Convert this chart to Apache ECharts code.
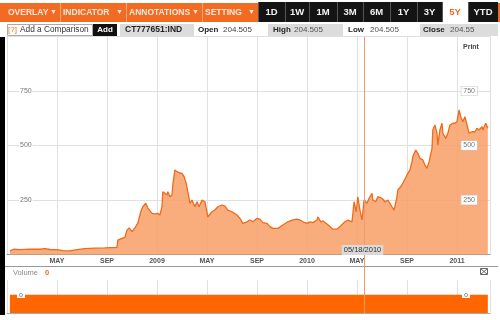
<!DOCTYPE html>
<html><head><meta charset="utf-8">
<script src="https://cdn.jsdelivr.net/npm/echarts@6/dist/echarts.min.js"></script>
<style>html,body{margin:0;padding:0;background:#fff}#c{width:500px;height:320px}</style>
</head><body><div id="c"></div>
<script>
// ---- data ----
const dates = ['2008-01-08','2008-01-17','2008-02-02','2008-02-26','2008-03-20','2008-04-02','2008-04-14','2008-05-01','2008-05-15','2008-06-02','2008-06-19','2008-07-08','2008-08-02','2008-08-26','2008-09-25','2008-09-27','2008-10-07','2008-10-14','2008-10-19','2008-10-24','2008-11-01','2008-11-08','2008-11-15','2008-11-22','2008-11-27','2008-12-04','2008-12-09','2008-12-19','2008-12-26','2009-01-03','2009-01-08','2009-01-13','2009-01-15','2009-01-20','2009-01-25','2009-01-27','2009-02-02','2009-02-07','2009-02-09','2009-02-14','2009-02-19','2009-02-24','2009-03-01','2009-03-06','2009-03-11','2009-03-15','2009-03-20','2009-03-25','2009-03-27','2009-04-02','2009-04-07','2009-04-12','2009-04-19','2009-04-26','2009-05-03','2009-05-13','2009-05-20','2009-05-27','2009-06-07','2009-06-14','2009-06-21','2009-07-01','2009-07-03','2009-07-13','2009-07-20','2009-07-27','2009-08-07','2009-08-14','2009-08-21','2009-09-01','2009-09-08','2009-09-15','2009-09-25','2009-10-02','2009-10-09','2009-10-21','2009-11-03','2009-11-15','2009-11-25','2009-12-07','2009-12-14','2009-12-21','2010-01-01','2010-01-08','2010-01-15','2010-01-25','2010-01-27','2010-02-04','2010-02-09','2010-02-19','2010-02-26','2010-03-03','2010-03-13','2010-03-20','2010-04-02','2010-04-09','2010-04-19','2010-04-24','2010-04-29','2010-05-03','2010-05-08','2010-05-13','2010-05-18','2010-05-25','2010-05-30','2010-06-07','2010-06-09','2010-06-16','2010-06-21','2010-07-01','2010-07-08','2010-07-15','2010-07-25','2010-07-30','2010-08-07','2010-08-09','2010-08-16','2010-08-21','2010-08-29','2010-09-03','2010-09-08','2010-09-13','2010-09-15','2010-09-22','2010-09-27','2010-10-02','2010-10-09','2010-10-14','2010-10-19','2010-10-24','2010-11-01','2010-11-03','2010-11-08','2010-11-13','2010-11-15','2010-11-20','2010-11-25','2010-11-27','2010-12-04','2010-12-09','2010-12-14','2010-12-21','2010-12-26','2011-01-01','2011-01-06','2011-01-10','2011-01-15','2011-01-20','2011-01-25','2011-01-30','2011-02-07','2011-02-14','2011-02-19','2011-02-24','2011-03-01','2011-03-03','2011-03-10','2011-03-15'];
const prices = [17,24,22,25,24,27,23,22,18,17,22,27,29,30,33,66,74,79,112,122,105,122,144,196,219,235,213,189,186,189,181,219,288,281,273,288,265,273,319,388,380,375,372,357,327,288,235,250,258,219,242,219,250,242,173,196,204,219,227,222,204,196,188,181,166,143,150,158,150,166,162,146,143,128,120,120,135,150,158,162,158,150,143,150,146,158,173,150,154,140,128,116,116,128,150,158,150,242,196,265,204,158,250,235,258,281,250,242,265,258,242,250,219,204,265,296,311,327,357,372,388,426,449,479,464,441,434,411,395,426,487,571,594,556,502,571,602,556,533,556,594,602,602,609,663,632,609,632,594,556,563,563,579,571,586,571,602,579];
const tickLabels = ['MAY','SEP','2009','MAY','SEP','2010','MAY','SEP','2011'];
const yTicks = [250, 500, 750];
const markerDate = '2010-05-18';
const markerText = '05/18/2010';
const volumeDates = ['2008-01-08','2011-03-15'];
const volumes = [1, 1];
const quote = {symbol:'CT777651:IND', open:'204.505', high:'204.505', low:'204.505', close:'204.55'};
const topMenus = ['OVERLAY','INDICATORS','ANNOTATIONS','SETTINGS'];
const ranges = ['1D','1W','1M','3M','6M','1Y','3Y','5Y','YTD'];

// ---- chart ----
const F = 'Arial, "Liberation Sans", sans-serif';
function toM(s){const p=s.split('-').map(Number);return (p[0]-2008)*12+(p[1]-1)+(p[2]-1)/30;}
const priceData = dates.map((d,i)=>[toM(d), prices[i]]);
const volData = volumeDates.map((d,i)=>[toM(d), volumes[i]]);
const X_MAX = 38.64;
const GRID = '#e0e0e0';
const chart = echarts.init(document.getElementById('c'));
chart.setOption({
  animation:false,
  grid:[{left:7,right:10,top:36.5,bottom:65.5},{left:7,right:10,top:280,bottom:7}],
  xAxis:[
    {type:'value',gridIndex:0,min:0,max:X_MAX,interval:4,
     axisLine:{show:true,lineStyle:{color:'#999'}},axisTick:{show:false},
     splitLine:{show:true,lineStyle:{color:GRID}},
     axisLabel:{fontSize:7,color:'#555',fontWeight:'bold',fontFamily:F,margin:3,
       formatter:v=>{if(Math.abs(v%4)>1e-6)return '';return tickLabels[Math.round(v/4)-1]||'';}}},
    {type:'value',gridIndex:1,min:0,max:X_MAX,interval:4,
     axisLine:{show:true,lineStyle:{color:'#aaa'}},axisTick:{show:false},axisLabel:{show:false},
     splitLine:{show:true,lineStyle:{color:GRID}}}
  ],
  yAxis:[
    {type:'value',gridIndex:0,min:0,max:1000,interval:250,position:'left',
     axisLine:{show:false},axisTick:{show:false},splitLine:{lineStyle:{color:GRID}},
     axisLabel:{inside:true,margin:12,fontSize:7,color:'#777',fontFamily:F,backgroundColor:'#fff',padding:[0,1],
       showMinLabel:false,showMaxLabel:false,formatter:v=>yTicks.includes(v)?String(v):''}},
    {type:'value',gridIndex:0,min:0,max:1000,interval:250,position:'right',z:10,
     axisLine:{show:false},axisTick:{show:false},splitLine:{show:false},
     axisLabel:{inside:true,margin:13,fontSize:7,color:'#777',fontFamily:F,backgroundColor:'#fff',
       borderColor:'#c8c8c8',borderWidth:0.6,padding:[1,2],showMinLabel:false,showMaxLabel:false}},
    {type:'value',gridIndex:1,min:0,max:1.8,show:false}
  ],
  series:[
    {type:'line',xAxisIndex:0,yAxisIndex:0,data:priceData,symbol:'none',z:3,
     lineStyle:{color:'#ef6a1c',width:1.3},areaStyle:{color:'#f99f66',opacity:0.86}},
    {type:'line',xAxisIndex:1,yAxisIndex:2,data:volData,symbol:'none',
     lineStyle:{width:0},areaStyle:{color:'#ff6600',opacity:1}}
  ]
});

// ---- chrome (toolbar, header, marker) ----
const g = [];
function rect(x,y,w,h,fill,stroke,z){g.push({type:'rect',shape:{x,y,width:w,height:h},style:{fill:fill||'none',stroke:stroke||null,lineWidth:stroke?1:0},z:z||50,silent:true});}
function text(x,y,t,opt){g.push({type:'text',x,y,style:Object.assign({text:t,fontFamily:F,fontSize:8,fill:'#222',verticalAlign:'middle'},opt||{}),z:60,silent:true});}
function line(x1,y1,x2,y2,stroke,z){g.push({type:'line',shape:{x1,y1,x2,y2},style:{stroke,lineWidth:1},z:z||55,silent:true});}

// top bar
rect(0,3,500,19,'#f26b22');
const menuX=[[5,60],[60,126],[126,202],[202,258]];
topMenus.forEach((m,i)=>{
  const [a,b]=menuX[i];
  text(a+3,12.5,m,{fontSize:8.5,fontWeight:'bold',fill:'#ffe6dc',align:'left',
    width:b-a-13,overflow:'truncate',ellipsis:''});
  text(b-3,12.5,'\u25BC',{fontSize:7,fill:'#ffe6dc',align:'right'});
  if(i>0) line(a+0.5,3,a+0.5,22,'#f9a678');
});
const rx=[258,285,309,337,363,390,417,442,468,498];
ranges.forEach((r,i)=>{
  const a=rx[i],b=rx[i+1];
  const sel=r==='5Y';
  rect(a,2,b-a,20,sel?'#ffffff':'#141414');
  text((a+b)/2,12.5,r,{fontSize:9.5,fontWeight:'bold',fill:sel?'#f26b22':'#f2f2f2',align:'center'});
  line(a+0.5,2,a+0.5,22,'#555');
});
// second row
rect(7.5,24.5,85,11,'#fff','#aaa');
text(8,30,'[?]',{fill:'#f26b22',fontSize:8});
text(20,30,'Add a Comparison',{fontSize:8.3,fill:'#333'});
rect(93,24,24,12,'#111');
text(105,30,'Add',{fontSize:8,fontWeight:'bold',fill:'#fff',align:'center'});
rect(120,24,74,12,'#dcdcdc');
text(125,30,quote.symbol,{fontSize:8.5,fontWeight:'bold',fill:'#222'});
text(198,30,'Open',{fontSize:8,fontWeight:'bold',fill:'#222'});
text(223,30,quote.open,{fontSize:8,fill:'#444'});
rect(268,24,75,12,'#dcdcdc');
text(273,30,'High',{fontSize:8,fontWeight:'bold',fill:'#222'});
text(294,30,quote.high,{fontSize:8,fill:'#555'});
text(348,30,'Low',{fontSize:8,fontWeight:'bold',fill:'#222'});
text(370,30,quote.low,{fontSize:8,fill:'#555'});
rect(420,24,78,12,'#dcdcdc');
text(423,30,'Close',{fontSize:8,fontWeight:'bold',fill:'#222'});
text(450,30,quote.close,{fontSize:8,fill:'#555'});
// left black border
rect(0,37,5,278,'#000');
// print
text(463,47,'Print',{fontSize:7,fontWeight:'bold',fill:'#444'});
// volume panel
line(5,266.5,498,266.5,'#999');
text(13,273,'Volume',{fontSize:7.5,fill:'#888'});
text(45,273,'0',{fontSize:7.5,fill:'#f26b22',fontWeight:'bold'});
rect(480.5,268.5,7,6,'#fff','#666');
line(481,269,487,274,'#666');line(487,269,481,274,'#666');
rect(17,292,8,6,'#fff',null,70);
g.push({type:'circle',shape:{cx:21,cy:295,r:1.6},style:{fill:'none',stroke:'#888',lineWidth:0.8},z:71,silent:true});
rect(462,292,8,6,'#fff',null,70);
g.push({type:'circle',shape:{cx:466,cy:295,r:1.6},style:{fill:'none',stroke:'#888',lineWidth:0.8},z:71,silent:true});
// marker
const mx = Math.round(chart.convertToPixel({xAxisIndex:0},toM(markerDate)))+0.5;
line(mx,37,mx,314,'#ef9a70',65);
g.push({type:'text',x:mx-2,y:250,style:{text:markerText,fontFamily:F,fontSize:7.5,fill:'#333',align:'center',verticalAlign:'middle',backgroundColor:'#dadada',padding:[1,2]},z:66,silent:true});
chart.setOption({graphic:g});
</script></body></html>
